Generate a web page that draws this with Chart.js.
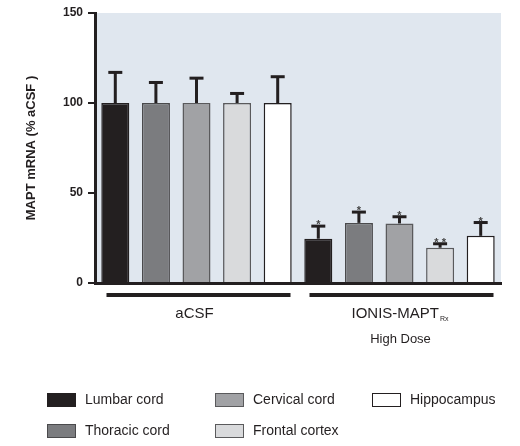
<!DOCTYPE html>
<html>
<head>
<meta charset="utf-8">
<script src="https://cdn.jsdelivr.net/npm/chart.js@4"></script>
<style>
  html, body { margin: 0; padding: 0; background: #fff; }
  #wrap { width: 520px; height: 446px; }
</style>
</head>
<body>
<div id="wrap"><canvas id="chart" width="520" height="446"></canvas></div>
<script>
const groups = ['aCSF', 'IONIS-MAPT'];
const tissues = ['Lumbar cord', 'Thoracic cord', 'Cervical cord', 'Frontal cortex', 'Hippocampus'];
const lumbar = [100, 24.6];
const thoracic = [100, 33.4];
const cervical = [100, 33.1];
const frontal = [100, 19.6];
const hippocampus = [100, 26.2];
const lumbarErr = [17, 7];
const thoracicErr = [11.4, 6];
const cervicalErr = [13.8, 3.7];
const frontalErr = [5.3, 2.2];
const hippocampusErr = [14.6, 7.4];
const stars = ['', '*'];
const frontalStars = ['', '* *'];
const yTicks = [0, 50, 100, 150];

const ink = '#231f20';
const font = '"Liberation Sans", Arial, sans-serif';

function ds(label, data, err, fill, border, sig) {
  return { label, data, err, sig, backgroundColor: fill, borderColor: border, borderWidth: 1.5 };
}

const datasets = [
  ds(tissues[0], lumbar, lumbarErr, '#231f20', '#231f20', stars),
  ds(tissues[1], thoracic, thoracicErr, '#7b7c7f', '#4a4a4c', stars),
  ds(tissues[2], cervical, cervicalErr, '#a1a2a5', '#5a5a5c', stars),
  ds(tissues[3], frontal, frontalErr, '#d9dadc', '#5a5a5c', frontalStars),
  ds(tissues[4], hippocampus, hippocampusErr, '#ffffff', '#231f20', stars)
];

// shaded plot area
const plotBg = {
  id: 'plotBg',
  beforeDraw(c) {
    const a = c.chartArea, ctx = c.ctx;
    ctx.save();
    ctx.fillStyle = '#e0e7ef';
    ctx.fillRect(a.left, a.top, a.right - a.left, a.bottom - a.top);
    ctx.restore();
  }
};

// error bars + significance stars
const errorBars = {
  id: 'errorBars',
  afterDatasetsDraw(c) {
    const ctx = c.ctx, y = c.scales.y;
    ctx.save();
    c.data.datasets.forEach((d, i) => {
      c.getDatasetMeta(i).data.forEach((bar, j) => {
        const top = y.getPixelForValue(d.data[j] + d.err[j]);
        ctx.fillStyle = ink;
        ctx.fillRect(bar.x - 1.5, top, 3, bar.y - top);
        ctx.fillRect(bar.x - 7, top - 1.5, 14, 3);
        if (d.sig[j]) {
          ctx.font = 'bold 11px ' + font;
          ctx.fillStyle = '#444';
          ctx.textAlign = 'center';
          ctx.textBaseline = 'alphabetic';
          ctx.fillText(d.sig[j], bar.x, top + 2);
        }
      });
    });
    ctx.restore();
  }
};

// group bars and labels under the x axis
const groupLabels = {
  id: 'groupLabels',
  afterDraw(c) {
    const ctx = c.ctx, x = c.scales.x;
    ctx.save();
    ctx.fillStyle = ink;
    groups.forEach((g, i) => {
      const cx = x.getPixelForValue(i) + 2;
      ctx.fillRect(cx - 92, 293, 184, 4);
    });
    ctx.textAlign = 'center';
    ctx.textBaseline = 'alphabetic';
    ctx.font = '15px ' + font;
    let cx = x.getPixelForValue(0) - 2;
    ctx.fillText(groups[0], cx, 318);
    cx = x.getPixelForValue(1);
    const w = ctx.measureText(groups[1]).width;
    ctx.font = '7px ' + font;
    const ws = ctx.measureText('Rx').width;
    const start = cx - (w + ws) / 2;
    ctx.textAlign = 'left';
    ctx.font = '15px ' + font;
    ctx.fillText(groups[1], start, 318);
    ctx.font = '7px ' + font;
    ctx.fillText('Rx', start + w + 1, 321);
    ctx.textAlign = 'center';
    ctx.font = '13px ' + font;
    ctx.fillText('High Dose', cx + 1, 343);
    ctx.restore();
  }
};

// legend in columns
const gridLegend = {
  id: 'gridLegend',
  afterDraw(c) {
    const ctx = c.ctx;
    const colX = [47, 215, 372];
    const rowY = [393, 424];
    ctx.save();
    ctx.font = '14px ' + font;
    ctx.textBaseline = 'middle';
    ctx.textAlign = 'left';
    c.data.datasets.forEach((d, i) => {
      const bx = colX[Math.floor(i / 2)], by = rowY[i % 2];
      ctx.fillStyle = d.backgroundColor;
      ctx.fillRect(bx, by, 29, 14);
      ctx.strokeStyle = d.borderColor;
      ctx.lineWidth = 1;
      ctx.strokeRect(bx + 0.5, by + 0.5, 28, 13);
      ctx.fillStyle = ink;
      ctx.fillText(d.label, bx + 38, by + 7.5);
    });
    ctx.restore();
  }
};

new Chart(document.getElementById('chart'), {
  type: 'bar',
  data: { labels: groups, datasets },
  options: {
    responsive: false,
    animation: false,
    layout: { padding: { left: 20, top: 13, right: 19, bottom: 163 } },
    datasets: { bar: { categoryPercentage: 1, barPercentage: 0.69 } },
    plugins: { legend: { display: false }, tooltip: { enabled: false } },
    scales: {
      x: {
        ticks: { display: false },
        grid: { display: false },
        border: { display: true, color: ink, width: 3 },
        afterFit(s) { s.height = 0; }
      },
      y: {
        min: 0,
        max: 150,
        afterBuildTicks(s) { s.ticks = yTicks.map(v => ({ value: v })); },
        ticks: { color: ink, padding: 5, font: { family: font, size: 12, weight: 'bold' } },
        grid: { drawOnChartArea: false, drawTicks: true, tickLength: 7, color: ink, lineWidth: 2 },
        border: { display: true, color: ink, width: 3 },
        title: {
          display: true,
          text: 'MAPT mRNA (% aCSF )',
          color: ink,
          padding: { top: 4, bottom: 0 },
          font: { family: font, size: 13, weight: 'bold' }
        },
        afterFit(s) { s.width = 75; }
      }
    }
  },
  plugins: [plotBg, errorBars, groupLabels, gridLegend]
});
</script>
</body>
</html>
